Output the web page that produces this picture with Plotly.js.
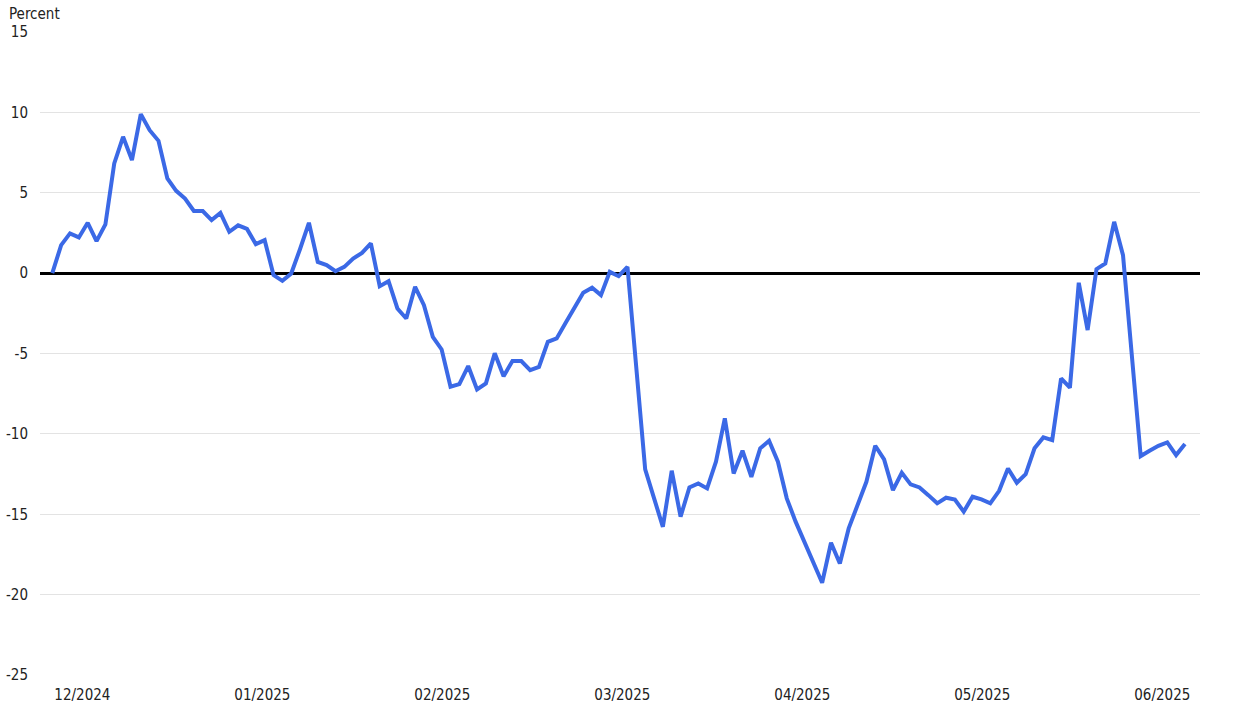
<!DOCTYPE html>
<html>
<head>
<meta charset="utf-8">
<script src="https://cdn.plot.ly/plotly-3.0.1.min.js"></script>
<style>
  html, body { margin: 0; padding: 0; background: #fff; }
  #chart { width: 1247px; height: 717px; }
</style>
</head>
<body>
<div id="chart"></div>
<script>
const seriesValues = [
  0.0, 1.74, 2.47, 2.22, 3.13, 1.99, 3.03, 6.82, 8.48, 7.03,
  9.89, 8.89, 8.23, 5.89, 5.12, 4.64, 3.87, 3.86, 3.30, 3.75,
  2.57, 2.97, 2.75, 1.80, 2.05, -0.12, -0.48, -0.02, 1.5, 3.13,
  0.70, 0.50, 0.12, 0.39, 0.91, 1.26, 1.85, -0.81, -0.50, -2.20,
  -2.82, -0.85, -1.99, -3.96, -4.75, -7.07, -6.90, -5.78, -7.23, -6.86,
  -4.99, -6.41, -5.47, -5.47, -6.03, -5.83, -4.27, -4.06, -3.1, -2.2,
  -1.22, -0.91, -1.37, 0.08, -0.19, 0.39, -6.0, -12.21, -14.0, -15.78,
  -12.29, -15.15, -13.33, -13.08, -13.39, -11.73, -9.04, -12.46, -11.05, -12.67,
  -10.90, -10.43, -11.73, -14.01, -15.46, -16.7, -17.95, -19.26, -16.77, -18.06,
  -15.88, -14.4, -12.98, -10.74, -11.59, -13.50, -12.42, -13.14, -13.33, -13.81,
  -14.32, -13.97, -14.08, -14.84, -13.91, -14.08, -14.32, -13.54, -12.15, -13.04,
  -12.50, -10.90, -10.22, -10.39, -6.55, -7.13, -0.60, -3.54, 0.25, 0.60,
  3.19, 1.12, -5.1, -11.38, -11.05, -10.74, -10.53, -11.32, -10.63
];
const monthLabels = ["12/2024", "01/2025", "02/2025", "03/2025", "04/2025", "05/2025", "06/2025"];
const yTicks = [-25, -20, -15, -10, -5, 0, 5, 10, 15];

const xIndex = seriesValues.map((_, i) => i);
// month labels sit evenly along the observation index
const tickStart = 3.4;
const tickStep = 20.34;
const tickPositions = monthLabels.map((_, k) => tickStart + k * tickStep);

const font = "'DejaVu Sans Condensed', 'Liberation Sans Narrow', sans-serif";
const textColor = "#222";

const data = [{
  type: "scatter",
  mode: "lines",
  x: xIndex,
  y: seriesValues,
  line: { color: "#3b69e6", width: 4 },
  hoverinfo: "y",
}];

const layout = {
  width: 1247,
  height: 717,
  paper_bgcolor: "#ffffff",
  plot_bgcolor: "#ffffff",
  font: { family: font, size: 15, color: textColor },
  margin: { l: 40, r: 47, t: 32, b: 42 },
  showlegend: false,
  xaxis: {
    range: [-1.39, 129.7],
    tickvals: tickPositions,
    ticktext: monthLabels,
    showgrid: false,
    zeroline: false,
    showline: false,
    ticks: "outside",
    ticklen: 6,
    tickcolor: "rgba(0,0,0,0)",
    tickfont: { family: font, size: 15, color: textColor },
  },
  yaxis: {
    range: [-25, 15],
    tickvals: yTicks,
    ticktext: yTicks.map(String),
    showgrid: true,
    gridcolor: "#e3e3e3",
    gridwidth: 1,
    zeroline: true,
    zerolinecolor: "#000000",
    zerolinewidth: 3,
    showline: false,
    ticks: "outside",
    ticklen: 8,
    tickcolor: "rgba(0,0,0,0)",
    tickfont: { family: font, size: 15, color: textColor },
  },
  annotations: [{
    text: "Percent",
    xref: "paper",
    yref: "paper",
    x: 0,
    y: 1,
    xanchor: "left",
    yanchor: "bottom",
    xshift: -33,
    yshift: 7,
    showarrow: false,
    font: { family: font, size: 15, color: textColor },
  }],
};

Plotly.newPlot("chart", data, layout, { displayModeBar: false, staticPlot: true });
</script>
</body>
</html>
